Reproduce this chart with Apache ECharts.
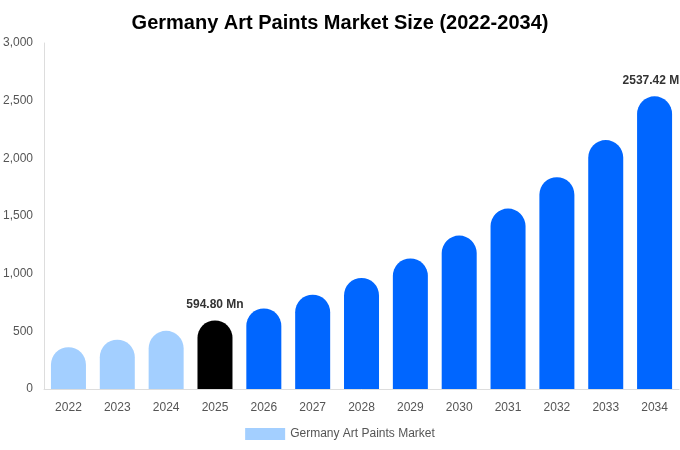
<!DOCTYPE html>
<html>
<head>
<meta charset="utf-8">
<script src="https://cdn.jsdelivr.net/npm/echarts@6/dist/echarts.min.js"></script>
<style>
html, body { margin: 0; padding: 0; background: #fff; }
#container { width: 680px; height: 450px; }
</style>
</head>
<body>
<div id="container"></div>
<script>
var years = ['2022', '2023', '2024', '2025', '2026', '2027', '2028', '2029', '2030', '2031', '2032', '2033', '2034'];
var values = [362, 428, 504, 594.80, 698, 818, 963, 1132, 1330, 1564, 1837, 2158, 2537.42];
var barColors = ['#a3cfff', '#a3cfff', '#a3cfff', '#000000', '#0066ff', '#0066ff', '#0066ff', '#0066ff', '#0066ff', '#0066ff', '#0066ff', '#0066ff', '#0066ff'];
var labelled = ['2025', '2034'];
var yTicks = { min: 0, max: 3000, interval: 500 };

var dom = document.getElementById('container');
var myChart = echarts.init(dom);

var barData = [];
echarts.util.each(values, function (v, i) {
    var show = labelled.indexOf(years[i]) >= 0;
    barData.push({
        value: v,
        itemStyle: { color: barColors[i] },
        label: {
            show: show,
            position: 'top',
            distance: 10,
            formatter: function (p) {
                return p.value.toFixed(2) + ' Mn';
            }
        }
    });
});

var option = {
    animation: false,
    title: {
        text: 'Germany Art Paints Market Size (2022-2034)',
        left: 'center',
        top: 8,
        textStyle: {
            fontFamily: 'Liberation Sans',
            fontSize: 20,
            fontWeight: 'bold',
            color: '#000'
        }
    },
    legend: {
        bottom: 5,
        left: 'center',
        itemWidth: 40,
        itemHeight: 12,
        itemGap: 8,
        icon: 'rect',
        textStyle: {
            fontFamily: 'Liberation Sans',
            fontSize: 12,
            color: '#555'
        },
        data: [{ name: 'Germany Art Paints Market', itemStyle: { color: '#a3cfff' } }]
    },
    grid: {
        left: 44,
        right: 1,
        top: 43,
        bottom: 61,
        containLabel: false
    },
    xAxis: {
        type: 'category',
        data: years,
        axisLine: { lineStyle: { color: '#ddd' } },
        axisTick: { show: false },
        axisLabel: {
            margin: 13,
            fontFamily: 'Liberation Sans',
            fontSize: 12,
            color: '#555'
        }
    },
    yAxis: {
        type: 'value',
        min: yTicks.min,
        max: yTicks.max,
        interval: yTicks.interval,
        axisLine: { show: true, lineStyle: { color: '#ddd' } },
        axisTick: { show: false },
        splitLine: { show: false },
        axisLabel: {
            margin: 11,
            fontFamily: 'Liberation Sans',
            fontSize: 12,
            color: '#555',
            formatter: function (v) {
                return v.toLocaleString('en-US');
            }
        }
    },
    series: [{
        name: 'Germany Art Paints Market',
        type: 'bar',
        barWidth: 35,
        data: barData,
        itemStyle: { borderRadius: [18, 18, 0, 0] },
        label: {
            fontFamily: 'Liberation Sans',
            fontSize: 12,
            fontWeight: 'bold',
            color: '#333'
        }
    }]
};

myChart.setOption(option);
</script>
</body>
</html>
